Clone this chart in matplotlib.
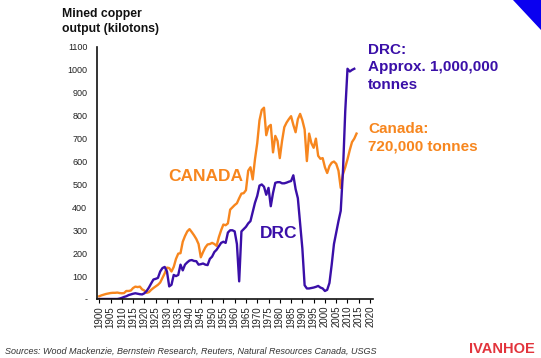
import matplotlib
matplotlib.use("Agg")
import matplotlib.pyplot as plt
from matplotlib.patches import Polygon
import numpy as np

plt.rcParams['font.family'] = ['Liberation Sans', 'DejaVu Sans']

years = list(range(1900, 2015))

canada = [
    12, 16, 19, 22, 24, 26, 27, 27, 28, 26,          # 1900-1909
    25, 26, 35, 35, 37, 48, 54, 52, 54, 42,          # 1910-1919
    37, 27, 30, 40, 48, 55, 62, 72, 92, 112,         # 1920-1929
    137, 135, 120, 140, 175, 198, 200, 250, 275, 295,  # 1930-1939
    305, 292, 278, 262, 240, 182, 205, 225, 238, 240,  # 1940-1949
    245, 240, 232, 270, 300, 325, 322, 330, 390, 400,  # 1950-1959
    410, 418, 440, 460, 462, 475, 560, 575, 522, 610,  # 1960-1969
    680, 780, 825, 835, 715, 752, 760, 640, 712, 690,  # 1970-1979
    615, 690, 750, 770, 785, 798, 760, 728, 785, 808,  # 1980-1989
    780, 740, 602, 722, 680, 660, 700, 625, 612, 615,  # 1990-1999
    575, 550, 580, 595, 600, 590, 560, 485, 545, 575,  # 2000-2009
    610, 650, 685, 700, 722,                          # 2010-2014
]

drc_years = list(range(1900, 2014))
drc = [
    0, 0, 0, 0, 0, 0, 0, 0, 0, 2,                    # 1900-1909
    5, 9, 12, 17, 20, 23, 25, 23, 21, 20,            # 1910-1919
    25, 35, 50, 68, 85, 88, 92, 120, 135, 140,       # 1920-1929
    120, 55, 62, 105, 100, 105, 150, 125, 150, 160,  # 1930-1939
    168, 170, 166, 165, 150, 152, 155, 150, 148, 175,  # 1940-1949
    185, 205, 215, 230, 245, 250, 245, 290, 300, 300,  # 1950-1959
    295, 240, 77, 295, 305, 315, 330, 340, 380, 420,   # 1960-1969
    450, 495, 500, 490, 455, 485, 405, 463, 507, 510,  # 1970-1979
    510, 505, 505, 508, 512, 515, 540, 480, 440, 330,  # 1980-1989
    220, 60, 46, 46, 48, 50, 53, 57, 50, 46,           # 1990-1999
    35, 40, 70, 150, 240, 290, 340, 385, 560, 820,     # 2000-2009
    1005, 993, 1000, 1005,                             # 2010-2013
]

yticks = [0, 100, 200, 300, 400, 500, 600, 700, 800, 900, 1000, 1100]
ytick_labels = ['-', '100', '200', '300', '400', '500', '600', '700', '800', '900', '1000', '1100']
xticks = list(range(1900, 2021, 5))

ORANGE = '#F7861E'
PURPLE = '#3A0FA8'

fig = plt.figure(figsize=(5.41, 3.58), dpi=100)
ax = fig.add_axes([97/541, 1 - 299/358, (373 - 97)/541, (299 - 47)/358])

ax.plot(years, canada, color=ORANGE, lw=1.7, solid_joinstyle='round')
ax.plot(drc_years, drc, color=PURPLE, lw=1.7, solid_joinstyle='round')

ax.set_xlim(1899, 2021.3)
ax.set_ylim(0, 1100)
ax.set_xticks(xticks)
ax.set_xticklabels([str(x) for x in xticks], rotation=90, fontsize=7, color='#222222')
ax.set_yticks(yticks)
ax.set_yticklabels(ytick_labels, fontsize=6.5, color='#222222')
ax.tick_params(axis='x', length=3, width=0.8, pad=2, direction='out')
ax.tick_params(axis='y', length=0, pad=7)
for s in ['top', 'right']:
    ax.spines[s].set_visible(False)
for s in ['left', 'bottom']:
    ax.spines[s].set_linewidth(1.2)
    ax.spines[s].set_color('#111111')

ax.text(1930.5, 533, 'CANADA', color=ORANGE, fontsize=12.5, fontweight='bold', va='center', ha='left')
ax.text(1971.2, 288, 'DRC', color=PURPLE, fontsize=12.5, fontweight='bold', va='center', ha='left')

fig.text(62/541, 1 - 8/358, 'Mined copper\noutput (kilotons)', fontsize=8.8, fontweight='bold',
         va='top', ha='left', color='#111111', linespacing=1.3)
fig.text(368/541, 1 - 43/358, 'DRC:\nApprox. 1,000,000\ntonnes', fontsize=11, fontweight='bold',
         va='top', ha='left', color=PURPLE, linespacing=1.3)
fig.text(368/541, 1 - 122/358, 'Canada:\n720,000 tonnes', fontsize=11, fontweight='bold',
         va='top', ha='left', color=ORANGE, linespacing=1.3)
fig.text(5/541, 1 - 351/358, 'Sources: Wood Mackenzie, Bernstein Research, Reuters, Natural Resources Canada, USGS',
         fontsize=6.5, style='italic', va='center', ha='left', color='#333333')
fig.text(535/541, 1 - 349/358, 'IVANHOE', fontsize=10.5, fontweight='bold', va='center', ha='right',
         color='#E2343C')

corner = Polygon([[513/541, 1.0], [1.0, 1.0], [1.0, 1 - 30/358]], closed=True,
                 transform=fig.transFigure, facecolor='#0A00F0', edgecolor='none')
fig.patches.append(corner)

fig.savefig('out.png', dpi=100)
